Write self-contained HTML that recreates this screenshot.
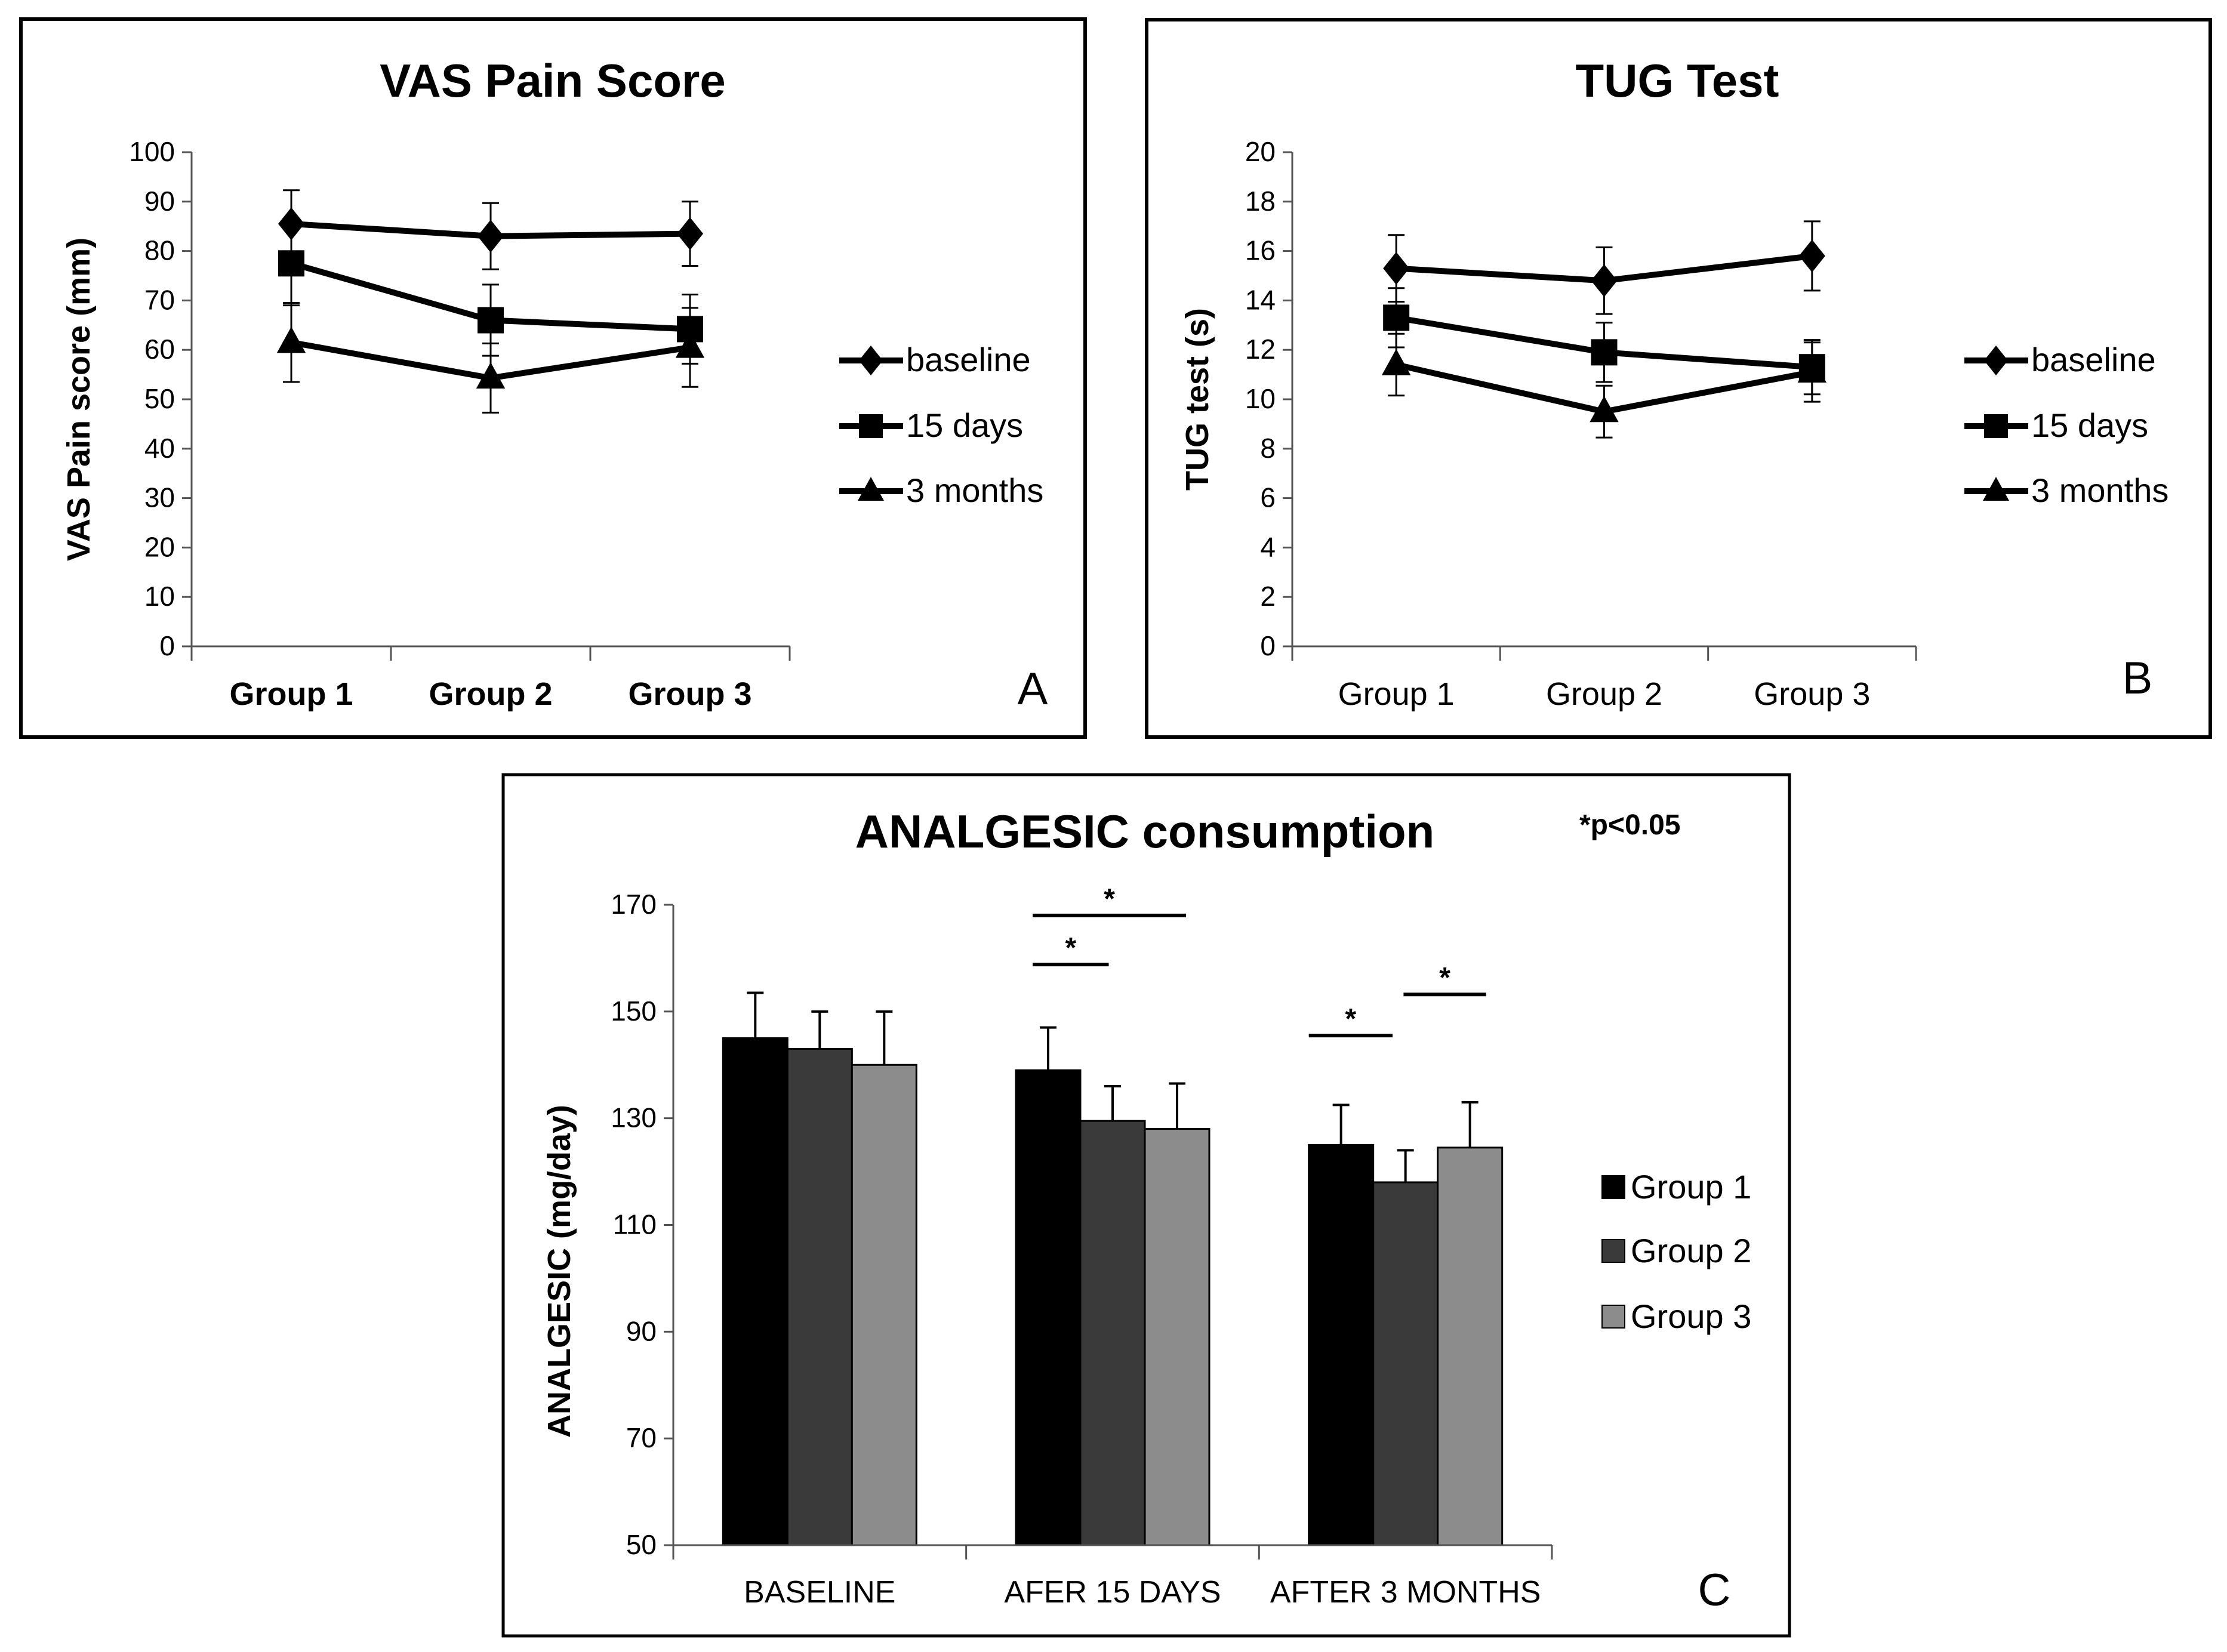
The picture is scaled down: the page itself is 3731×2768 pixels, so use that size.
<!DOCTYPE html>
<html><head><meta charset="utf-8"><style>
html,body{margin:0;padding:0;background:#fff;}
svg{display:block;}
text{font-family:"Liberation Sans Narrow","Liberation Sans",sans-serif;fill:#000;}
</style></head><body>
<svg id="fig" width="3731" height="2768" viewBox="0 0 3731 2768" xmlns="http://www.w3.org/2000/svg">
<rect x="0" y="0" width="3731" height="2768" fill="#fff"/>
<rect x="35" y="32" width="1783" height="1203" fill="none" stroke="#000" stroke-width="6"/>
<rect x="1921" y="33" width="1782" height="1202" fill="none" stroke="#000" stroke-width="6"/>
<rect x="843" y="1298" width="2155" height="1443" fill="none" stroke="#000" stroke-width="5"/>
<g id="A"></g>
<g id="B"></g>
<g id="C"></g>
</svg>
<script>
// Panel A data
const vasCategories = ["Group 1","Group 2","Group 3"];
const vasSeriesNames = ["baseline","15 days","3 months"];
const vasBaseline = [85.5, 83, 83.5];
const vasBaselineErr = [6.8, 6.7, 6.5];
const vas15Days = [77.5, 66, 64.2];
const vas15DaysErr = [8.5, 7.2, 7];
const vas3Months = [61.5, 54.3, 60.5];
const vas3MonthsErr = [8, 7, 8];
const vasTicks = [0,10,20,30,40,50,60,70,80,90,100];
// Panel B data
const tugCategories = ["Group 1","Group 2","Group 3"];
const tugBaseline = [15.3, 14.8, 15.8];
const tugBaselineErr = [1.35, 1.35, 1.4];
const tug15Days = [13.3, 11.9, 11.3];
const tug15DaysErr = [1.2, 1.2, 1.1];
const tug3Months = [11.4, 9.5, 11.1];
const tug3MonthsErr = [1.25, 1.05, 1.2];
const tugTicks = [0,2,4,6,8,10,12,14,16,18,20];
// Panel C data
const anCategories = ["BASELINE","AFER 15 DAYS","AFTER 3 MONTHS"];
const anGroups = ["Group 1","Group 2","Group 3"];
const anGroup1 = [145, 139, 125];
const anGroup1Err = [8.5, 8, 7.5];
const anGroup2 = [143, 129.5, 118];
const anGroup2Err = [7, 6.5, 6];
const anGroup3 = [140, 128, 124.5];
const anGroup3Err = [10, 8.5, 8.5];
const anTicks = [50,70,90,110,130,150,170];
const anSigCat = [1, 1, 2, 2];
const anSigFrom = [0.26, 0.26, 0, 1.47];
const anSigTo = [2.64, 1.44, 1.3, 2.75];
const anSigLevel = [168, 158.8, 145.5, 153.2];

const NS="http://www.w3.org/2000/svg";
function mk(parent, tag, attrs){const e=document.createElementNS(NS,tag);for(const k in attrs)e.setAttribute(k,attrs[k]);parent.appendChild(e);return e;}
function txt(parent, x, y, s, size, opts){const t=mk(parent,'text',{x:x,y:y,'font-size':size,'text-anchor':opts.anchor||'middle','font-weight':opts.bold?'bold':'normal'});if(opts.rot)t.setAttribute('transform','rotate(-90 '+x+' '+y+')');if(opts.family)t.setAttribute('style','font-family:'+opts.family);t.textContent=s;return t;}
function marker(g, type, x, y, r){
  if(type===0) return mk(g,'polygon',{points:(x)+','+(y-r*1.25)+' '+(x+r)+','+y+' '+x+','+(y+r*1.25)+' '+(x-r)+','+y,fill:'#000'});
  if(type===1) return mk(g,'rect',{x:x-r,y:y-r,width:2*r,height:2*r,fill:'#000'});
  return mk(g,'polygon',{points:x+','+(y-r*1.2)+' '+(x+r*1.1)+','+(y+r*0.8)+' '+(x-r*1.1)+','+(y+r*0.8),fill:'#000'});
}
function lineChart(g, cfg){
  const yS=v=>cfg.y0-(v-cfg.min)/(cfg.max-cfg.min)*(cfg.y0-cfg.y1);
  const step=(cfg.xEnd-cfg.xAxis)/cfg.cats.length;
  const xS=i=>cfg.xAxis+step*(i+0.5);
  txt(g,cfg.titleX,cfg.titleY,cfg.title,78,{bold:true});
  const ax=mk(g,'path',{d:'M'+cfg.xAxis+' '+yS(cfg.max)+' V'+cfg.y0+' H'+cfg.xEnd,stroke:'#555',fill:'none','stroke-width':3});
  
  cfg.ticks.forEach(t=>{
    const tl=mk(g,'line',{x1:cfg.xAxis-16,x2:cfg.xAxis,y1:yS(t),y2:yS(t),stroke:'#555','stroke-width':3});
    
    const l=txt(g,cfg.xAxis-28,yS(t)+15,String(t),46,{anchor:'end'});
    
  });
  for(let i=0;i<=cfg.cats.length;i++){const x=cfg.xAxis+step*i;const tl=mk(g,'line',{x1:x,x2:x,y1:cfg.y0,y2:cfg.y0+24,stroke:'#555','stroke-width':3});}
  cfg.cats.forEach((c,i)=>{const l=txt(g,xS(i),cfg.y0+98,c,54,{bold:cfg.catBold});});
  const yl=txt(g,cfg.ylabX,(cfg.y0+cfg.y1)/2,cfg.ylab,54,{bold:true,rot:true,family:'"Liberation Sans",sans-serif'});
  
  cfg.series.forEach((s,si)=>{
    const sg=mk(g,'g',{});
    s.vals.forEach((v,i)=>{
      const x=xS(i),a=yS(v+s.err[i]),b=yS(v-s.err[i]);
      const e=mk(sg,'path',{d:'M'+x+' '+a+' V'+b+' M'+(x-14)+' '+a+' H'+(x+14)+' M'+(x-14)+' '+b+' H'+(x+14),stroke:'#000','stroke-width':3,fill:'none'});
      
    });
    const d=s.vals.map((v,i)=>(i?'L':'M')+xS(i)+' '+yS(v)).join(' ');
    const p=mk(sg,'path',{d:d,stroke:'#000','stroke-width':10,fill:'none'});
    
    s.vals.forEach((v,i)=>{const m=marker(sg,si,xS(i),yS(v),22);});
    const ly=cfg.legY[si];
    const lg=mk(g,'g',{});
    mk(lg,'line',{x1:cfg.legX,x2:cfg.legX+107,y1:ly,y2:ly,stroke:'#000','stroke-width':10});
    marker(lg,si,cfg.legX+53,ly,20);
    txt(lg,cfg.legX+112,ly+18,s.name,56,{anchor:'start'});
  });
  const pl=txt(g,cfg.letterX,cfg.letterY,cfg.letter,76,{});
}
lineChart(document.getElementById('A'),{title:'VAS Pain Score',titleX:926,titleY:162,xAxis:321,xEnd:1323,y0:1083,y1:255,min:0,max:100,ticks:vasTicks,cats:vasCategories,catBold:true,ylab:'VAS Pain  score (mm)',ylabX:150,
 series:[{name:vasSeriesNames[0],vals:vasBaseline,err:vasBaselineErr},{name:vasSeriesNames[1],vals:vas15Days,err:vas15DaysErr},{name:vasSeriesNames[2],vals:vas3Months,err:vas3MonthsErr}],
 legX:1406,legY:[604,714,823],letter:'A',letterX:1730,letterY:1180});
lineChart(document.getElementById('B'),{title:'TUG Test',titleX:2810,titleY:162,xAxis:2165,xEnd:3210,y0:1083,y1:255,min:0,max:20,ticks:tugTicks,cats:tugCategories,catBold:false,ylab:'TUG test (s)',ylabX:2024,
 series:[{name:vasSeriesNames[0],vals:tugBaseline,err:tugBaselineErr},{name:vasSeriesNames[1],vals:tug15Days,err:tug15DaysErr},{name:vasSeriesNames[2],vals:tug3Months,err:tug3MonthsErr}],
 legX:3291,legY:[604,714,823],letter:'B',letterX:3581,letterY:1162});

(function(){
  const g=document.getElementById('C');
  const xA=1128,xE=2600,y0=2589,y1=1516,min=50,max=170;
  const yS=v=>y0-(v-min)/(max-min)*(y0-y1);
  const cw=(xE-xA)/anCategories.length, bw=108, pad=(cw-3*bw)/2;
  const colors=['#000','#3a3a3a','#8c8c8c'];
  const vals=[anGroup1,anGroup2,anGroup3], errs=[anGroup1Err,anGroup2Err,anGroup3Err];
  const bx=(c,k)=>xA+cw*c+pad+bw*k;
  txt(g,1918,1420,'ANALGESIC consumption',78,{bold:true});
  const pv=txt(g,2646,1398,'*p<0.05',48,{bold:true,anchor:'start'});
  anCategories.forEach((c,ci)=>{
    [0,1,2].forEach(k=>{
      const v=vals[k][ci], e=errs[k][ci], x=bx(ci,k);
      const r=mk(g,'rect',{x:x,y:yS(v),width:bw,height:y0-yS(v),fill:colors[k],stroke:'#000','stroke-width':3});
      
      const cx=x+bw/2;
      const eb=mk(g,'path',{d:'M'+cx+' '+yS(v)+' V'+yS(v+e)+' M'+(cx-14)+' '+yS(v+e)+' H'+(cx+14),stroke:'#000','stroke-width':4,fill:'none'});
      
    });
    const l=txt(g,xA+cw*(ci+0.5),2685,c,52,{});
  });
  const ax=mk(g,'path',{d:'M'+xA+' '+y1+' V'+y0+' H'+xE,stroke:'#555',fill:'none','stroke-width':3});
  
  anTicks.forEach(t=>{
    const tl=mk(g,'line',{x1:xA-16,x2:xA,y1:yS(t),y2:yS(t),stroke:'#555','stroke-width':3});
    
    const l=txt(g,xA-28,yS(t)+15,String(t),46,{anchor:'end'});
    
  });
  for(let i=0;i<=3;i++){const x=xA+cw*i;const tl=mk(g,'line',{x1:x,x2:x,y1:y0,y2:y0+24,stroke:'#555','stroke-width':3});}
  const yl=txt(g,955,2130,'ANALGESIC (mg/day)',54,{bold:true,rot:true,family:'"Liberation Sans",sans-serif'});
  
  anSigLevel.forEach((lv,i)=>{
    const base=xA+cw*anSigCat[i]+pad;
    const x1=base+bw*anSigFrom[i], x2=base+bw*anSigTo[i];
    const sl=mk(g,'line',{x1:x1,x2:x2,y1:yS(lv),y2:yS(lv),stroke:'#000','stroke-width':6});
    
    const st=txt(g,(x1+x2)/2,yS(lv)-12,'*',48,{bold:true});
  });
  anGroups.forEach((n,k)=>{
    const ly=[1989,2096,2206][k];
    const lg=mk(g,'g',{});
    mk(lg,'rect',{x:2684,y:ly-19,width:38,height:38,fill:colors[k],stroke:'#000','stroke-width':2});
    txt(lg,2732,ly+19,n,56,{anchor:'start'});
  });
  const pl=txt(g,2872,2690,'C',76,{});
})();
</script>
</body></html>
